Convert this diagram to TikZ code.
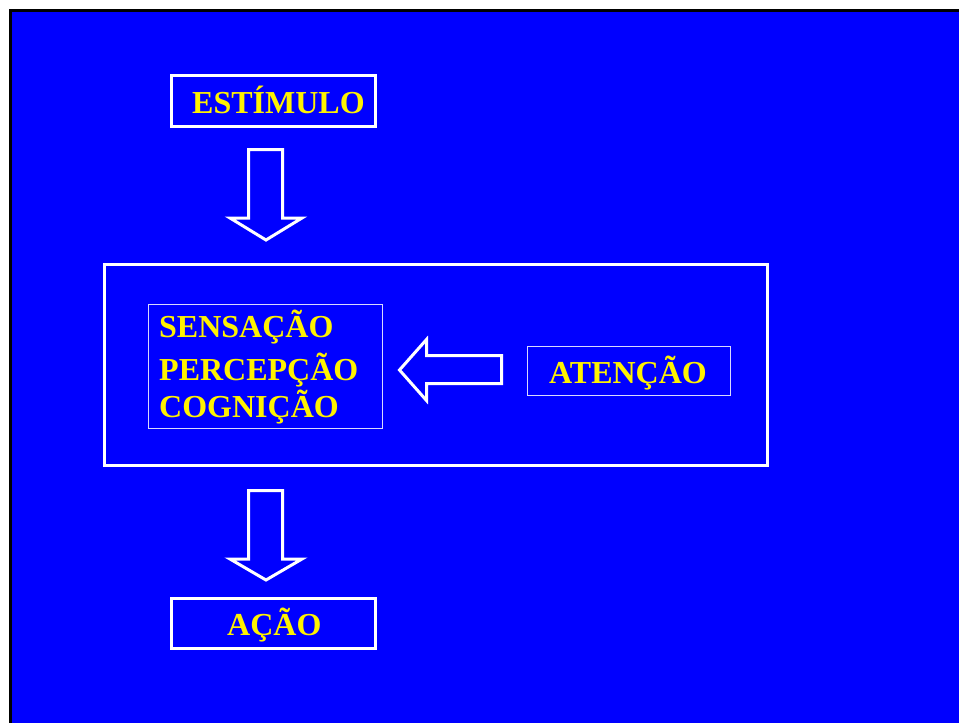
\documentclass[tikz,border=0pt]{standalone}
\usepackage{fontspec}
\setmainfont{Liberation Serif}
\begin{document}
\begin{tikzpicture}[x=1pt,y=-1pt,
  thickbox/.style={draw=white,line width=3pt,inner sep=0pt,outer sep=0pt},
  thinbox/.style={draw=white!85!blue,line width=1.1pt,inner sep=0pt,outer sep=0pt},
  lbl/.style={text=yellow,font=\fontsize{32}{38}\selectfont\bfseries,inner sep=0pt,anchor=base west},
  blockarrow/.style={draw=white,line width=3pt,line join=miter}]
\useasboundingbox (0,0) rectangle (959,723);
\fill[white] (0,0) rectangle (959,723);
\fill[blue] (10,10) rectangle (959,723);
\draw[black,line width=3pt] (10.5,723) -- (10.5,10.5) -- (959,10.5);
% boxes
\node[thickbox,minimum width=204pt,minimum height=51pt] (est) at (273.5,101) {};
\node[thickbox,minimum width=663pt,minimum height=201pt] (big) at (436,365) {};
\node[thickbox,minimum width=204pt,minimum height=50pt] (acao) at (273.5,623.5) {};
\node[thinbox,minimum width=234pt,minimum height=124pt] (spc) at (265.5,366.5) {};
\node[thinbox,minimum width=203pt,minimum height=49pt] (aten) at (629,371) {};
% texts
\node[lbl] (testim) at (192,113) {ESTÍMULO};
\node[lbl] (tsens) at (159,337) {SENSAÇÃO};
\node[lbl] (tperc) at (159,380) {PERCEPÇÃO};
\node[lbl] (tcog) at (159,417) {COGNIÇÃO};
\node[lbl] (taten) at (549,383) {ATENÇÃO};
\node[lbl] (tacao) at (227,635) {AÇÃO};
% block arrows
\draw[blockarrow] (248.5,149.5) -- (282.5,149.5) -- (282.5,218) -- (302,218) -- (266,240) -- (230,218) -- (248.5,218) -- cycle;
\draw[blockarrow] (248.5,490.5) -- (282.5,490.5) -- (282.5,559) -- (302,559) -- (266,580) -- (230,559) -- (248.5,559) -- cycle;
\draw[blockarrow] (501.5,355.5) -- (426.5,355.5) -- (426.5,339.5) -- (399.5,370) -- (426.5,400.5) -- (426.5,383.5) -- (501.5,383.5) -- cycle;
\end{tikzpicture}
\end{document}
